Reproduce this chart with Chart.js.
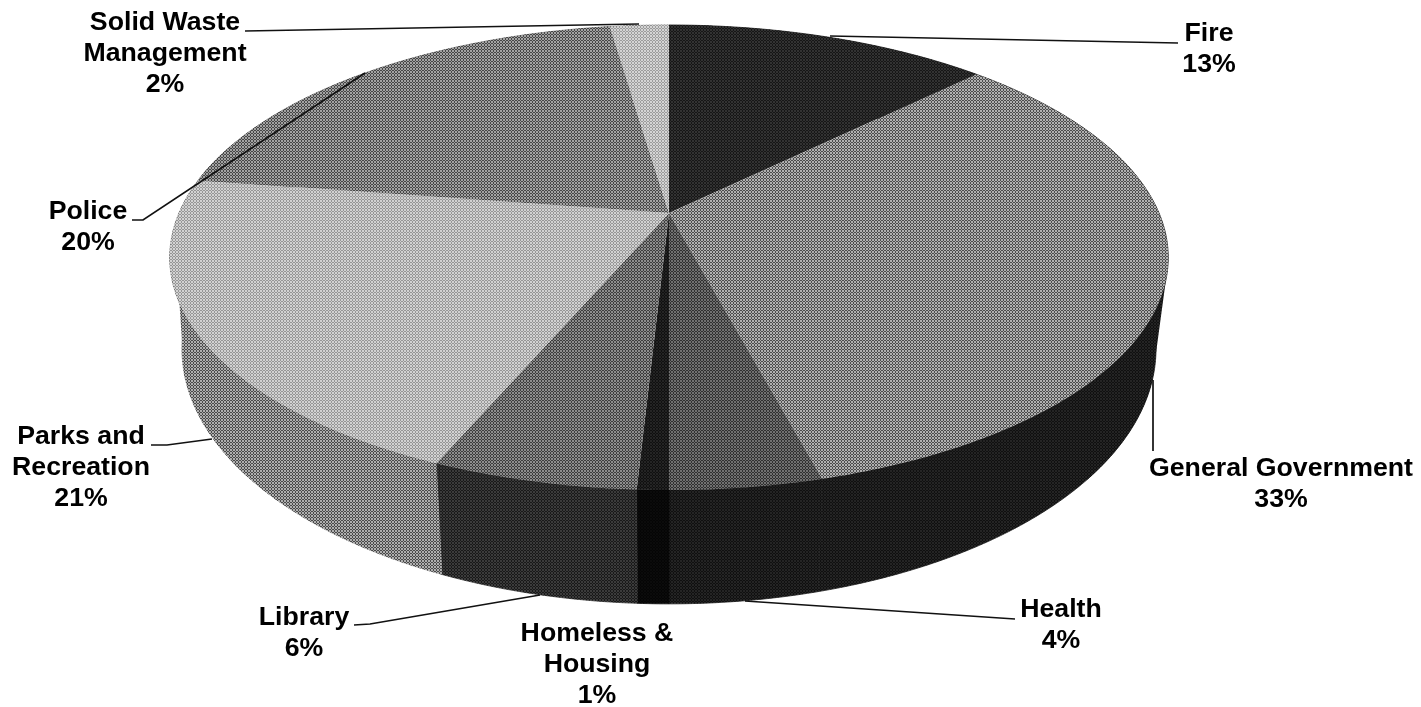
<!DOCTYPE html>
<html>
<head>
<meta charset="utf-8">
<title>Expenditures by function</title>
<script src="https://cdn.jsdelivr.net/npm/chart.js@4"></script>
<style>
    html, body { margin: 0; padding: 0; background: #fff; }
    canvas { display: block; }
</style>
</head>
<body>
<canvas id="myChart" width="1421" height="707"></canvas>
<script>
const categories = ['Fire', 'General Government', 'Health', 'Homeless & Housing', 'Library', 'Parks and Recreation', 'Police', 'Solid Waste Management'];
const values = [12.6, 33.3, 4.1, 0.85, 5.55, 21.0, 20.3, 2.3];
const percentLabels = ['13%', '33%', '4%', '1%', '6%', '21%', '20%', '2%'];
const labelLines = [['Fire'], ['General Government'], ['Health'], ['Homeless &', 'Housing'], ['Library'], ['Parks and', 'Recreation'], ['Police'], ['Solid Waste', 'Management']];

// grey levels of the scan, top face and side wall
const topGreys = [36, 126, 80, 26, 100, 180, 116, 184];
const sideGreys = [24, 26, 26, 8, 42, 124, 85, 119];

// where the labels sit, x is the centre, y the middle of the first line
const labelX = [1209, 1281, 1061, 597, 304, 81, 88, 165];
const labelY = [34, 469, 610, 634, 618, 437, 212, 23];
const lineGap = 31;

const leaders = [
    [[1178, 43], [830, 36]],
    [[1153, 451], [1153, 380]],
    [[1015, 619], [1000, 618], [745, 601]],
    [],
    [[354, 625], [370, 624], [540, 595]],
    [[151, 445], [167, 445], [212, 439]],
    [[132, 220], [143, 220], [365, 73]],
    [[245, 31], [639, 24]],
];

// perspective of the disc: top face and bottom face
const tilt = 0.1914;
const topFace = { cx: 669, cy: 213, ax: 490, ay: 224 };
const bottomFace = { cx: 669, cy: 300, ax: 478, ay: 245.7 };

// the straight edges where the wall leaves the top face, canvas angles in degrees
const wallEdges = [
    { slice: 1, top: 16.4, bottom: 17.8, inner: 40 },
    { slice: 5, top: 158.1, bottom: 163.7, inner: 135 },
];

function project(face, angle) {
    let u = Math.cos(angle);
    let v = Math.sin(angle);
    let w = 1 - tilt * v;
    return [face.cx + face.ax * u / w, face.cy + face.ay * v / w];
}

function arcPoints(face, start, end) {
    let pts = [];
    let steps = Math.max(2, Math.ceil(Math.abs(end - start) / 0.01));
    for (let i = 0; i <= steps; i++) {
        pts.push(project(face, start + (end - start) * i / steps));
    }
    return pts;
}

function tracePath(ctx, pts) {
    ctx.beginPath();
    pts.forEach((p, i) => {
        if (i == 0) ctx.moveTo(p[0], p[1]);
        else ctx.lineTo(p[0], p[1]);
    });
    ctx.closePath();
}

// printed halftone: a small tile of light and dark pixels around the grey level
function toneColor(level) {
    let c = Math.max(0, Math.min(255, Math.round(level)));
    return 'rgb(' + c + ',' + c + ',' + c + ')';
}

function tone(grey) {
    const tile = document.createElement('canvas');
    tile.width = 3;
    tile.height = 3;
    const t = tile.getContext('2d');
    let amount = Math.min(grey, 255 - grey) * 0.4;
    for (let y = 0; y < 3; y++) {
        for (let x = 0; x < 3; x++) {
            t.fillStyle = toneColor((x + y) % 2 == 0 ? grey + amount : grey - amount);
            t.fillRect(x, y, 1, 1);
        }
    }
    return t.createPattern(tile, 'repeat');
}

const topTones = topGreys.map(tone);
const sideTones = sideGreys.map(tone);

const pie3d = {
    id: 'pie3d',
    beforeDatasetDraw(chart, args) {
        const ctx = chart.ctx;
        const arcs = args.meta.data;
        const rad = Math.PI / 180;

        // walls first, the top face covers whatever is behind it
        wallEdges.forEach(e => {
            let top = arcPoints(topFace, e.top * rad, e.inner * rad);
            let bottom = arcPoints(bottomFace, e.inner * rad, e.bottom * rad);
            tracePath(ctx, top.concat(bottom));
            ctx.fillStyle = sideTones[e.slice];
            ctx.fill();
        });
        arcs.forEach((arc, i) => {
            let a = arc.getProps(['startAngle', 'endAngle'], true);
            let top = arcPoints(topFace, a.startAngle, a.endAngle);
            let bottom = arcPoints(bottomFace, a.endAngle, a.startAngle);
            tracePath(ctx, top.concat(bottom));
            ctx.fillStyle = sideTones[i];
            ctx.strokeStyle = sideTones[i];
            ctx.lineWidth = 0.8;
            ctx.fill();
            ctx.stroke();
        });

        arcs.forEach((arc, i) => {
            let a = arc.getProps(['startAngle', 'endAngle'], true);
            let pts = arcPoints(topFace, a.startAngle, a.endAngle);
            pts.unshift([topFace.cx, topFace.cy]);
            tracePath(ctx, pts);
            ctx.fillStyle = arc.options.backgroundColor;
            ctx.fill();
        });
        return false;
    },
    afterDraw(chart) {
        const ctx = chart.ctx;
        ctx.save();
        ctx.strokeStyle = '#111';
        ctx.lineWidth = 1.7;
        leaders.forEach(line => {
            if (line.length == 0) return;
            ctx.beginPath();
            line.forEach((p, i) => {
                if (i == 0) ctx.moveTo(p[0], p[1]);
                else ctx.lineTo(p[0], p[1]);
            });
            ctx.stroke();
        });

        ctx.fillStyle = '#000';
        ctx.font = 'bold 26.7px "Liberation Sans"';
        ctx.textAlign = 'center';
        ctx.textBaseline = 'middle';
        labelLines.forEach((lines, i) => {
            let all = lines.concat(percentLabels[i]);
            all.forEach((text, j) => {
                ctx.fillText(text, labelX[i], labelY[i] + j * lineGap);
            });
        });
        ctx.restore();
    }
};

const myChart = new Chart(document.getElementById('myChart'), {
    type: 'pie',
    data: {
        labels: categories,
        datasets: [{
            data: values,
            backgroundColor: topTones,
            borderWidth: 0,
        }]
    },
    options: {
        responsive: false,
        devicePixelRatio: 1,
        animation: false,
        plugins: {
            legend: { display: false },
            tooltip: { enabled: false },
        }
    },
    plugins: [pie3d]
});
</script>
</body>
</html>
